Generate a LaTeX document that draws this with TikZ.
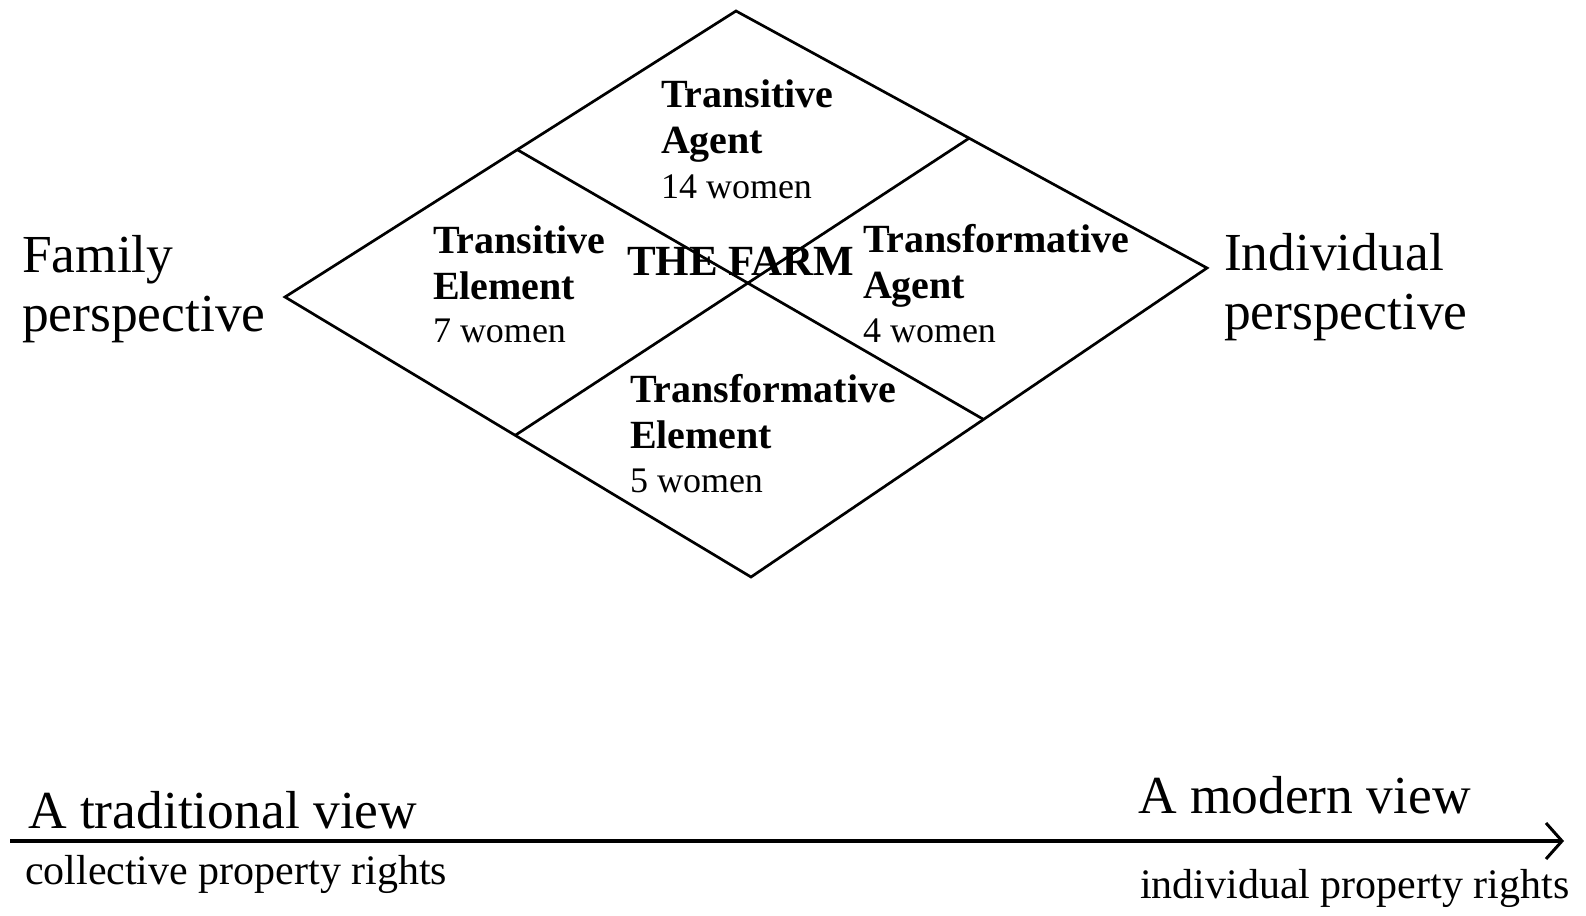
\documentclass[tikz,border=0pt]{standalone}
\usepackage{fontspec}
\setmainfont{Liberation Serif}
\usetikzlibrary{calc,arrows.meta}
\tikzset{
  lbl/.style={anchor=base west,inner sep=0pt,outer sep=0pt},
  big/.style={lbl,font=\fontsize{53.5}{64}\selectfont},
  head/.style={lbl,font=\fontsize{40}{46}\selectfont\bfseries},
  count/.style={lbl,font=\fontsize{36}{42}\selectfont},
  farm/.style={lbl,font=\fontsize{43}{50}\selectfont\bfseries},
  rights/.style={lbl,font=\fontsize{42}{50}\selectfont},
  edge/.style={line width=2.7pt,line join=miter},
  axis/.style={line width=4pt,-{Straight Barb[length=16pt,width=36pt,line width=3pt]}}
}
\begin{document}
\begin{tikzpicture}[x=1pt,y=-1pt]
\useasboundingbox (0,0) rectangle (1586,915);
% diamond vertices
\coordinate (T) at (736,11);
\coordinate (L) at (285,297);
\coordinate (B) at (751,577);
\coordinate (R) at (1207,268);
\coordinate (UL) at ($(T)!0.485!(L)$);
\coordinate (UR) at ($(T)!0.495!(R)$);
\coordinate (LR) at ($(R)!0.49!(B)$);
\coordinate (LL) at ($(L)!0.494!(B)$);
\draw[edge] (T) -- (R) -- (B) -- (L) -- cycle;
\draw[edge] (UL) -- (LR);
\draw[edge] (UR) -- (LL);

% side labels
\node[big] (fam1) at (22,272) {Family};
\node[big] (fam2) at (22,331) {perspective};
\node[big] (ind1) at (1224,270) {Individual};
\node[big] (ind2) at (1224,329) {perspective};

% quadrant labels
\node[head] (ta1) at (661,107) {Transitive};
\node[head] (ta2) at (661,153) {Agent};
\node[count] (ta3) at (661,198) {14 women};

\node[head] (te1) at (433,253) {Transitive};
\node[head] (te2) at (433,299) {Element};
\node[count] (te3) at (433,342) {7 women};

\node[head] (fa1) at (863,252) {Transformative};
\node[head] (fa2) at (863,298) {Agent};
\node[count] (fa3) at (863,342) {4 women};

\node[head] (fe1) at (630,402) {Transformative};
\node[head] (fe2) at (630,448) {Element};
\node[count] (fe3) at (630,492) {5 women};

\node[farm] (farm) at (627,275) {THE FARM};

% bottom axis
\coordinate (as) at (10,841);
\coordinate (ae) at (1564,841);
\draw[axis] (as) -- (ae);
\node[big] (trad) at (28,828) {A traditional view};
\node[big] (mod) at (1138,813) {A modern view};
\node[rights] (coll) at (25,884) {collective property rights};
\node[rights] (indiv) at (1140,898) {individual property rights};
\end{tikzpicture}
\end{document}
